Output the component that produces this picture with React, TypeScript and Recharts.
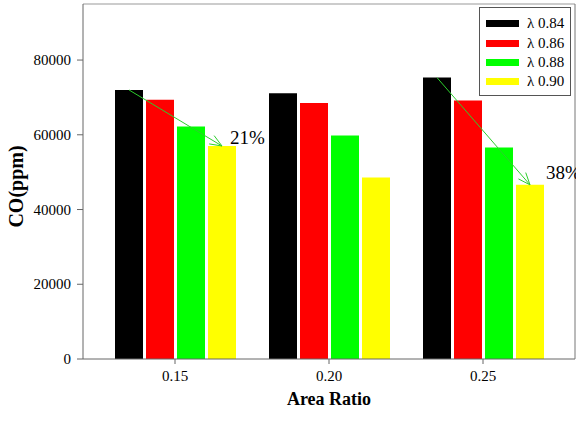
import { BarChart, Bar, XAxis, YAxis, LabelList } from 'recharts'

const ratios = ['0.15', '0.20', '0.25']
const lambda84 = [72000, 71100, 75300]
const lambda86 = [69400, 68500, 69200]
const lambda88 = [62200, 59800, 56600]
const lambda90 = [57000, 48600, 46600]
const yTicks = [0, 20000, 40000, 60000, 80000]

const series = [
  { key: 'l84', name: 'λ 0.84', color: '#000000' },
  { key: 'l86', name: 'λ 0.86', color: '#ff0000' },
  { key: 'l88', name: 'λ 0.88', color: '#00ff00' },
  { key: 'l90', name: 'λ 0.90', color: '#ffff00' },
]

// drop annotations: category index -> label
const drops: Record<number, string> = { 0: '21%', 2: '38%' }

const data = ratios.map((r, i) => ({
  ratio: r,
  l84: lambda84[i],
  l86: lambda86[i],
  l88: lambda88[i],
  l90: lambda90[i],
}))

const FONT = 'Liberation Serif'
const BAR_SIZE = 28
const BAR_GAP = 3
const ARROW = '#2ccf2c'

function DropArrow(props: any) {
  const { x, y, width, height, value, index } = props
  const text = drops[index]
  if (!text) return null
  const top = Number(y)
  const w = Number(width)
  const bottom = top + Number(height)
  const perUnit = Number(height) / Number(value)
  const x2 = Number(x) + w / 2
  const y2 = top
  const x1 = x2 - 3 * (w + BAR_GAP)
  const y1 = bottom - data[index].l84 * perUnit
  const ang = Math.atan2(y2 - y1, x2 - x1)
  const len = 13
  const spread = 0.38
  const ha = { x: x2 - len * Math.cos(ang - spread), y: y2 - len * Math.sin(ang - spread) }
  const hb = { x: x2 - len * Math.cos(ang + spread), y: y2 - len * Math.sin(ang + spread) }
  const dx = index === 0 ? 8 : 16
  const dy = index === 0 ? -2 : -6
  return (
    <g>
      <line x1={x1} y1={y1} x2={x2} y2={y2} stroke={ARROW} strokeWidth={1} />
      <line x1={ha.x} y1={ha.y} x2={x2} y2={y2} stroke={ARROW} strokeWidth={1} />
      <line x1={hb.x} y1={hb.y} x2={x2} y2={y2} stroke={ARROW} strokeWidth={1} />
      <text x={x2 + dx} y={y2 + dy} fontFamily={FONT} fontSize={19} fill="#000">
        {text}
      </text>
    </g>
  )
}

function XTick(props: any) {
  const { x, y, payload } = props
  return (
    <text x={x} y={y + 6} textAnchor="middle" fontFamily={FONT} fontSize={15} fill="#000">
      {payload.value}
    </text>
  )
}

function YTick(props: any) {
  const { x, y, payload } = props
  return (
    <text x={x} y={y + 5} textAnchor="end" fontFamily={FONT} fontSize={15} fill="#000">
      {payload.value}
    </text>
  )
}

function YTitle(props: any) {
  const vb = props.viewBox
  const cx = vb.x + 16
  const cy = vb.y + vb.height / 2 + 5
  return (
    <text
      x={cx}
      y={cy}
      transform={`rotate(-90 ${cx} ${cy})`}
      textAnchor="middle"
      dominantBaseline="central"
      fontFamily={FONT}
      fontWeight="bold"
      fontSize={20}
      fill="#000"
    >
      CO(ppm)
    </text>
  )
}

export default function App() {
  return (
    <div style={{ position: 'relative', width: 576, height: 421, background: '#fff' }}>
      <style>{'body{margin:0}'}</style>
      <BarChart
        width={576}
        height={421}
        data={data}
        margin={{ top: 3, right: 0, left: 0, bottom: 0 }}
        barSize={BAR_SIZE}
        barGap={BAR_GAP}
      >
        <XAxis
          dataKey="ratio"
          height={62}
          padding={{ left: 15, right: 15 }}
          tick={<XTick />}
          tickSize={5}
          tickMargin={11}
          axisLine={{ stroke: '#666' }}
          tickLine={{ stroke: '#666' }}
          label={{
            value: 'Area Ratio',
            position: 'insideBottom',
            offset: 16,
            style: { fontFamily: FONT, fontWeight: 'bold', fontSize: 18, fill: '#000' },
          }}
        />
        <XAxis
          xAxisId="top"
          dataKey="ratio"
          orientation="top"
          height={1}
          tick={false}
          tickLine={false}
          axisLine={{ stroke: '#999' }}
        />
        <YAxis
          width={83}
          domain={[0, 95000]}
          ticks={yTicks}
          tick={<YTick />}
          tickSize={6}
          tickMargin={6}
          axisLine={{ stroke: '#666' }}
          tickLine={{ stroke: '#666' }}
          label={<YTitle />}
        />
        <YAxis
          yAxisId="right"
          orientation="right"
          width={1}
          domain={[0, 95000]}
          tick={false}
          tickLine={false}
          axisLine={{ stroke: '#777' }}
        />
        {series.map((s) => (
          <Bar key={s.key} dataKey={s.key} name={s.name} fill={s.color} isAnimationActive={false}>
            {s.key === 'l90' && <LabelList dataKey="l90" content={<DropArrow />} />}
          </Bar>
        ))}
      </BarChart>
      <div
        style={{
          position: 'absolute',
          left: 479,
          top: 7,
          width: 92,
          height: 89,
          border: '1px solid #555',
          background: '#fff',
          boxSizing: 'border-box',
          paddingTop: 6,
        }}
      >
        {series.map((s) => (
          <div
            key={s.key}
            style={{ display: 'flex', alignItems: 'center', height: 19.4, paddingLeft: 6 }}
          >
            <div style={{ width: 33, height: 7, background: s.color }} />
            <span
              style={{ marginLeft: 8, fontFamily: FONT, fontSize: 15, color: '#000', lineHeight: '19px' }}
            >
              {s.name}
            </span>
          </div>
        ))}
      </div>
    </div>
  )
}
